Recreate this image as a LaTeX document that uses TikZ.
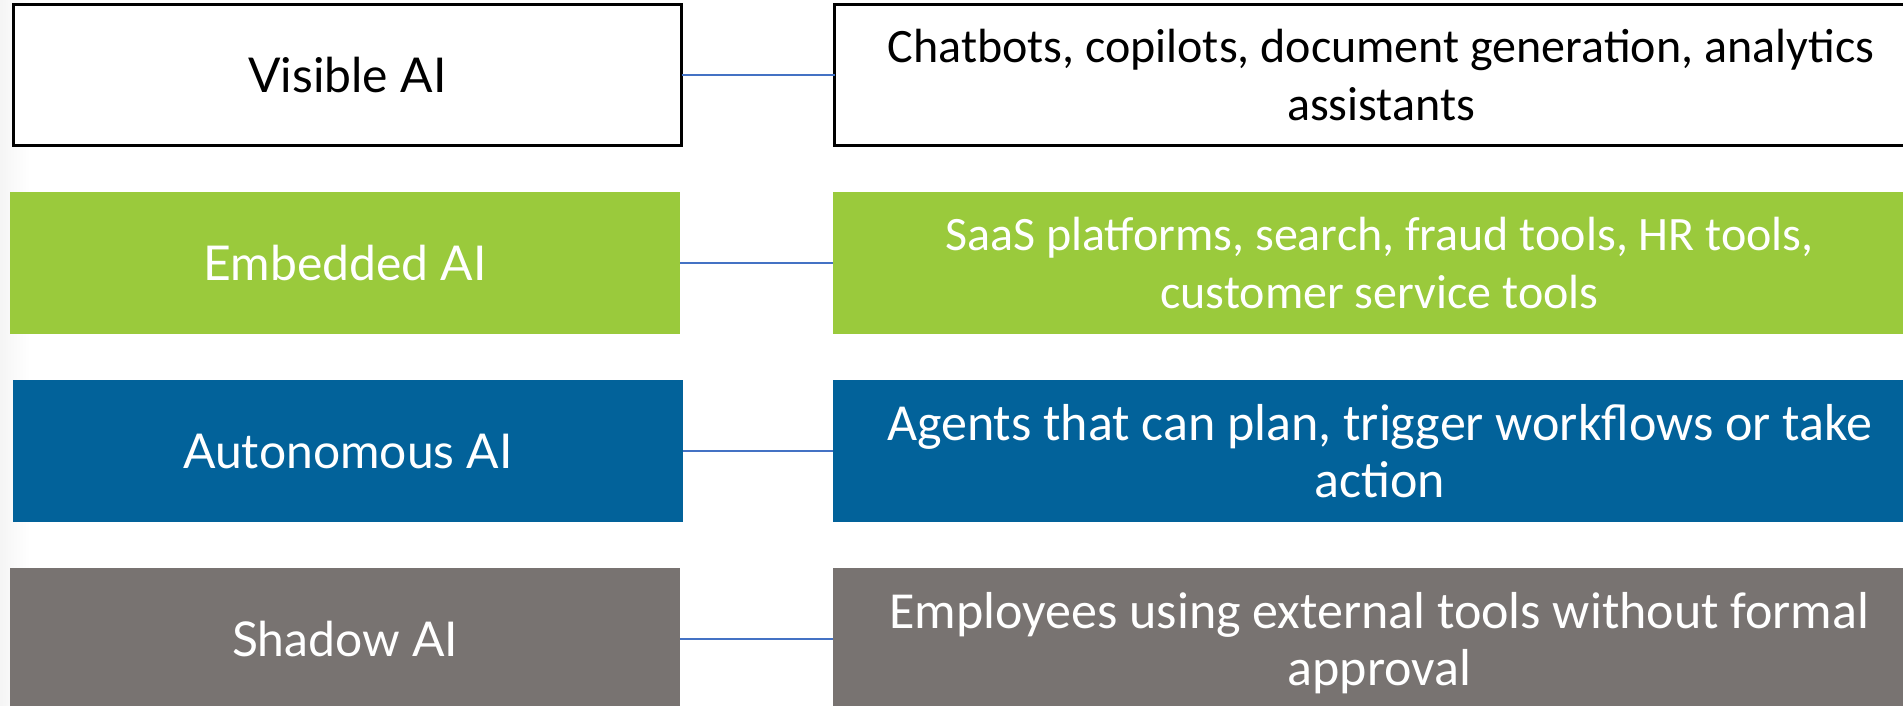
\documentclass[tikz,border=0pt]{standalone}
\usepackage{fontspec}
\setmainfont{Carlito}
\newfontfamily\leftfont{Lato}
\definecolor{cgreen}{HTML}{9ACA3C}
\definecolor{cblue}{HTML}{02629A}
\definecolor{cgray}{HTML}{787371}
\definecolor{cline}{HTML}{4472C4}
\begin{document}
\begin{tikzpicture}[x=1pt,y=-1pt,
  lbox/.style={rectangle,anchor=north west,inner sep=0pt,outer sep=0pt,align=center,
    font=\leftfont\fontsize{48}{56}\selectfont},
  rbox/.style={rectangle,anchor=north west,inner sep=0pt,outer sep=0pt,align=center,
    font=\fontsize{48}{58}\selectfont},
  rboxl/.style={rbox,font=\fontsize{52}{57}\selectfont},
  link/.style={draw=cline,line width=1.6pt}]
\useasboundingbox (0,0) rectangle (1903,706);
\clip (0,0) rectangle (1903,706);
\fill[white] (0,0) rectangle (1903,706);
\shade[left color=black!4,right color=white] (0,0) rectangle (30,706);
% row 1
\node[lbox,draw=black,line width=3pt,fill=white,minimum width=668pt,minimum height=141pt] (l1) at (13.5,4.5) {Visible AI};
\node[rbox,draw=black,line width=3pt,fill=white,minimum width=1093pt,minimum height=141pt] (r1) at (834.5,4.5) {Chatbots, copilots, document generation, analytics\\assistants};
% row 2
\node[lbox,fill=cgreen,text=white,minimum width=670pt,minimum height=142pt] (l2) at (10,192) {Embedded AI};
\node[rbox,fill=cgreen,text=white,minimum width=1093pt,minimum height=142pt] (r2) at (833,192) {SaaS platforms, search, fraud tools, HR tools,\\customer service tools};
% row 3
\node[lbox,fill=cblue,text=white,minimum width=670pt,minimum height=142pt] (l3) at (13,380) {Autonomous AI};
\node[rboxl,fill=cblue,text=white,minimum width=1093pt,minimum height=142pt] (r3) at (833,380) {Agents that can plan, trigger workflows or take\\action};
% row 4
\node[lbox,fill=cgray,text=white,minimum width=670pt,minimum height=142pt] (l4) at (10,568) {Shadow AI};
\node[rboxl,fill=cgray,text=white,minimum width=1093pt,minimum height=142pt] (r4) at (833,568) {\raisebox{-7pt}[\height][\depth]{\begin{tabular}{@{}c@{}}Employees using external tools without formal\\approval\end{tabular}}};
% connectors
\draw[link] (l1.east) -- (r1.west);
\draw[link] (l2.east) -- (r2.west);
\draw[link] (l3.east) -- (r3.west);
\draw[link] (l4.east) -- (r4.west);
\end{tikzpicture}
\end{document}
